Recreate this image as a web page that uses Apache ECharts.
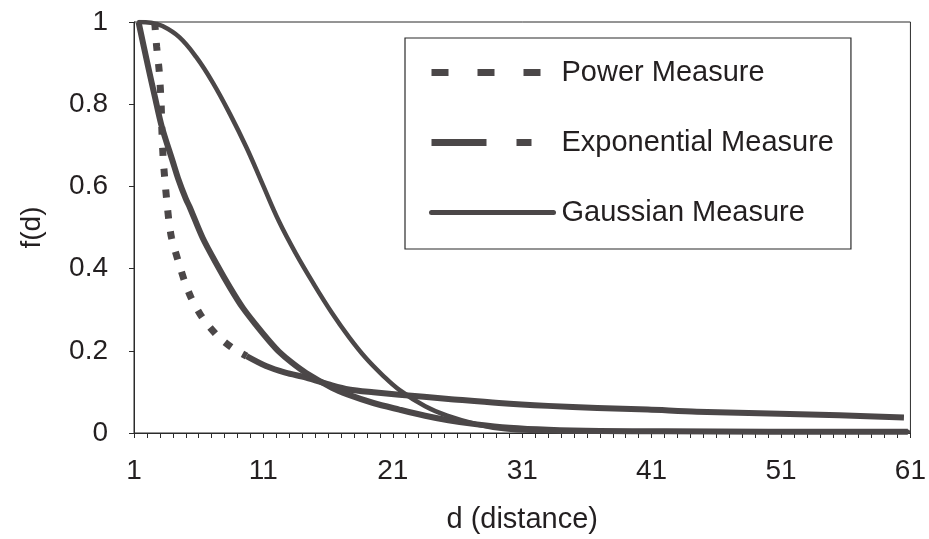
<!DOCTYPE html>
<html>
<head>
<meta charset="utf-8">
<script src="https://cdn.jsdelivr.net/npm/echarts@6/dist/echarts.min.js"></script>
<style>
html,body{margin:0;padding:0;background:#fff;}
#c{width:929px;height:539px;}
</style>
</head>
<body>
<div id="c"></div>
<script>
// ---- data ----
const xTickValues = [1,2,3,4,5,6,7,8,9,10,11,12,13,14,15,16,17,18,19,20,21,22,23,24,25,26,27,28,29,30,
  31,32,33,34,35,36,37,38,39,40,41,42,43,44,45,46,47,48,49,50,51,52,53,54,55,56,57,58,59,60,61];
const xLabelValues = [1, 11, 21, 31, 41, 51, 61];

const powerD = [2.6, 2.75, 2.95, 3.1, 3.15, 3.25, 3.4, 3.55, 3.7, 3.9, 4.4, 4.9, 5.4, 6.3, 7.5, 8.6, 9.7,
  11.2, 12.7, 14.3, 16.3, 17.6, 19.5, 21.5, 25.3, 29.2, 33, 36.8, 40.7, 44.5, 50.9, 55.5, 60.5];
const powerF = [1.0, 0.94, 0.88, 0.80, 0.74, 0.67, 0.61, 0.56, 0.515, 0.475, 0.42, 0.37, 0.33, 0.28, 0.235, 0.207, 0.187,
  0.163, 0.147, 0.135, 0.116, 0.106, 0.099, 0.093, 0.083, 0.073, 0.066, 0.061, 0.057, 0.052, 0.047, 0.043, 0.038];
const powerDashedCount = 17; // points drawn with the visible dot pattern (steep part)

const expD = [1.35, 2.1, 2.6, 3.15, 4.0, 4.4, 5.0, 5.3, 6.3, 7.4, 8.4, 9.4, 10.5, 11.5, 12.2, 13.2, 14.3,
  16.3, 17.5, 19.5, 21.5, 23.5, 25.3, 27.5, 30, 33, 37, 42, 50, 60.8];
const expF = [1.0, 0.89, 0.82, 0.745, 0.66, 0.62, 0.57, 0.55, 0.475, 0.41, 0.355, 0.305, 0.26, 0.222, 0.198, 0.171, 0.146,
  0.11, 0.094, 0.073, 0.057, 0.042, 0.031, 0.021, 0.013, 0.008, 0.005, 0.004, 0.003, 0.003];

const gaussD = [1.4, 2.3, 3.2, 4.5, 5.8, 7.1, 8.4, 9.7, 10.9, 12.2, 13.5, 14.9, 16.3, 17.6, 18.9, 20.2, 21.5,
  23.5, 25.2, 27.6, 29.7, 32, 36, 45, 60.8];
const gaussF = [1.0, 0.998, 0.99, 0.963, 0.915, 0.852, 0.777, 0.694, 0.608, 0.515, 0.437, 0.362, 0.292, 0.234, 0.183, 0.141, 0.105,
  0.065, 0.042, 0.02, 0.009, 0.005, 0.003, 0.003, 0.003];

// ---- styling ----
const FONT = '"Liberation Sans", Arial, Helvetica, sans-serif';
const INK = '#231f20';
const LINE = '#4b4748';
const AXIS = '#2b2b2b';

function pairs(xs, ys) { return xs.map((x, i) => [x, ys[i]]); }

const powerAll = pairs(powerD, powerF);
const powerHead = powerAll.slice(0, powerDashedCount);
const powerTail = powerAll.slice(powerDashedCount - 1);

const hiddenSymbol = {color: 'rgba(0,0,0,0)', borderWidth: 0, opacity: 0};

const chart = echarts.init(document.getElementById('c'), null, {renderer: 'canvas'});
chart.setOption({
  animation: false,
  backgroundColor: '#ffffff',
  color: [LINE, LINE, LINE, LINE],
  textStyle: {fontFamily: FONT, color: INK},
  grid: {left: 134, right: 16, top: 22, bottom: 101, show: true, borderColor: AXIS, borderWidth: 1},
  legend: {
    orient: 'vertical', left: 405, top: 38,
    padding: [20, 17, 22, 23],
    itemWidth: 122, itemHeight: 28, itemGap: 41,
    borderColor: AXIS, borderWidth: 1.2,
    selectedMode: false,
    textStyle: {fontFamily: FONT, fontSize: 29, color: INK, padding: [0, 0, 0, 3]},
    data: [
      {name: 'Power Measure', itemStyle: hiddenSymbol,
       lineStyle: {type: [17, 29], width: 7, cap: 'butt', color: LINE}},
      {name: 'Exponential Measure', itemStyle: hiddenSymbol,
       lineStyle: {type: [55, 30, 15, 30], width: 7, cap: 'butt', color: LINE}},
      {name: 'Gaussian Measure', itemStyle: hiddenSymbol,
       lineStyle: {type: 'solid', width: 5, cap: 'round', color: LINE}}
    ]
  },
  xAxis: {
    type: 'value', min: 1, max: 61,
    name: 'd (distance)', nameLocation: 'middle', nameGap: 72,
    nameTextStyle: {fontFamily: FONT, fontSize: 29, color: INK},
    axisLine: {show: true, lineStyle: {color: AXIS, width: 1}},
    axisTick: {show: true, customValues: xTickValues, length: 5, lineStyle: {color: AXIS, width: 1}},
    axisLabel: {customValues: xLabelValues, margin: 24, fontFamily: FONT, fontSize: 28, color: INK},
    splitLine: {show: false}
  },
  yAxis: {
    type: 'value', min: 0, max: 1, interval: 0.2,
    name: 'f(d)', nameLocation: 'middle', nameGap: 88, nameRotate: 90,
    nameTextStyle: {fontFamily: FONT, fontSize: 28, color: INK},
    axisLine: {show: true, lineStyle: {color: AXIS, width: 1}},
    axisTick: {show: true, length: 5, lineStyle: {color: AXIS, width: 1}},
    axisLabel: {margin: 26, fontFamily: FONT, fontSize: 28, color: INK},
    splitLine: {show: false}
  },
  series: [
    {name: 'Power Measure', type: 'line', symbol: 'none', z: 2, data: powerHead,
     smooth: 0.25, itemStyle: {color: LINE},
     lineStyle: {color: LINE, width: 7, type: [8, 13], cap: 'butt'}},
    {name: 'Power Measure', type: 'line', symbol: 'none', z: 2, data: powerTail,
     smooth: 0.3, itemStyle: {color: LINE},
     lineStyle: {color: LINE, width: 6, type: 'solid', join: 'round'}},
    {name: 'Exponential Measure', type: 'line', symbol: 'none', z: 3, data: pairs(expD, expF),
     smooth: 0.3, itemStyle: {color: LINE},
     lineStyle: {color: LINE, width: 6, type: 'solid', join: 'round'}},
    {name: 'Gaussian Measure', type: 'line', symbol: 'none', z: 4, data: pairs(gaussD, gaussF),
     smooth: 0.4, itemStyle: {color: LINE},
     lineStyle: {color: LINE, width: 4.5, type: 'solid', join: 'round', cap: 'round'}}
  ]
});
</script>
</body>
</html>
